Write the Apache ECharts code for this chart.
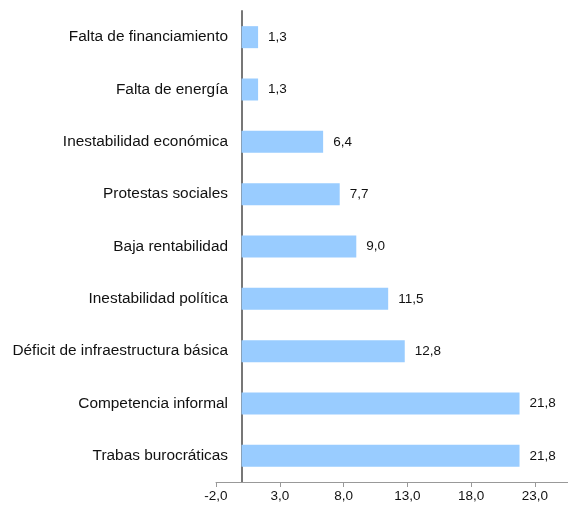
<!DOCTYPE html>
<html>
<head>
<meta charset="utf-8">
<script src="https://cdn.jsdelivr.net/npm/echarts@6/dist/echarts.min.js"></script>
<style>
html,body{margin:0;padding:0;background:#fff;}
#chart{width:568px;height:508px;}
</style>
</head>
<body>
<div id="chart"></div>
<script>
// categorias de abajo hacia arriba
const categories = [
  'Trabas burocráticas',
  'Competencia informal',
  'Déficit de infraestructura básica',
  'Inestabilidad política',
  'Baja rentabilidad',
  'Protestas sociales',
  'Inestabilidad económica',
  'Falta de energía',
  'Falta de financiamiento'
];
const values = [21.8, 21.8, 12.8, 11.5, 9.0, 7.7, 6.4, 1.3, 1.3];
const axisMin = -2;
const axisMax = 25.6;
const axisStep = 5;

const fmt = v => v.toFixed(1).replace('.', ',');

const chart = echarts.init(document.getElementById('chart'));
chart.setOption({
  animation: false,
  textStyle: { fontFamily: 'Liberation Sans, Arial, sans-serif' },
  grid: { left: 216, right: 0, top: 11, bottom: 26, containLabel: false },
  xAxis: {
    type: 'value',
    min: axisMin,
    max: axisMax,
    interval: axisStep,
    splitLine: { show: false },
    axisLine: { show: true, lineStyle: { color: '#999', width: 1 } },
    axisTick: { show: true, length: 5, lineStyle: { color: '#999' } },
    axisLabel: {
      color: '#111', fontSize: 13.5, margin: 7,
      showMaxLabel: false,
      formatter: v => ((v - axisMin) % axisStep === 0 ? fmt(v) : '')
    }
  },
  yAxis: {
    type: 'category',
    data: categories,
    axisLine: { show: true, onZero: true, lineStyle: { color: '#777', width: 2 } },
    axisTick: { show: false },
    axisLabel: { color: '#111', fontSize: 15.4, margin: -12 }
  },
  series: [{
    type: 'bar',
    data: values,
    barWidth: 22,
    itemStyle: { color: '#99ccff' },
    label: {
      show: true,
      position: 'right',
      distance: 10,
      color: '#111',
      fontSize: 13.5,
      formatter: p => fmt(p.value)
    }
  }]
});
</script>
</body>
</html>
